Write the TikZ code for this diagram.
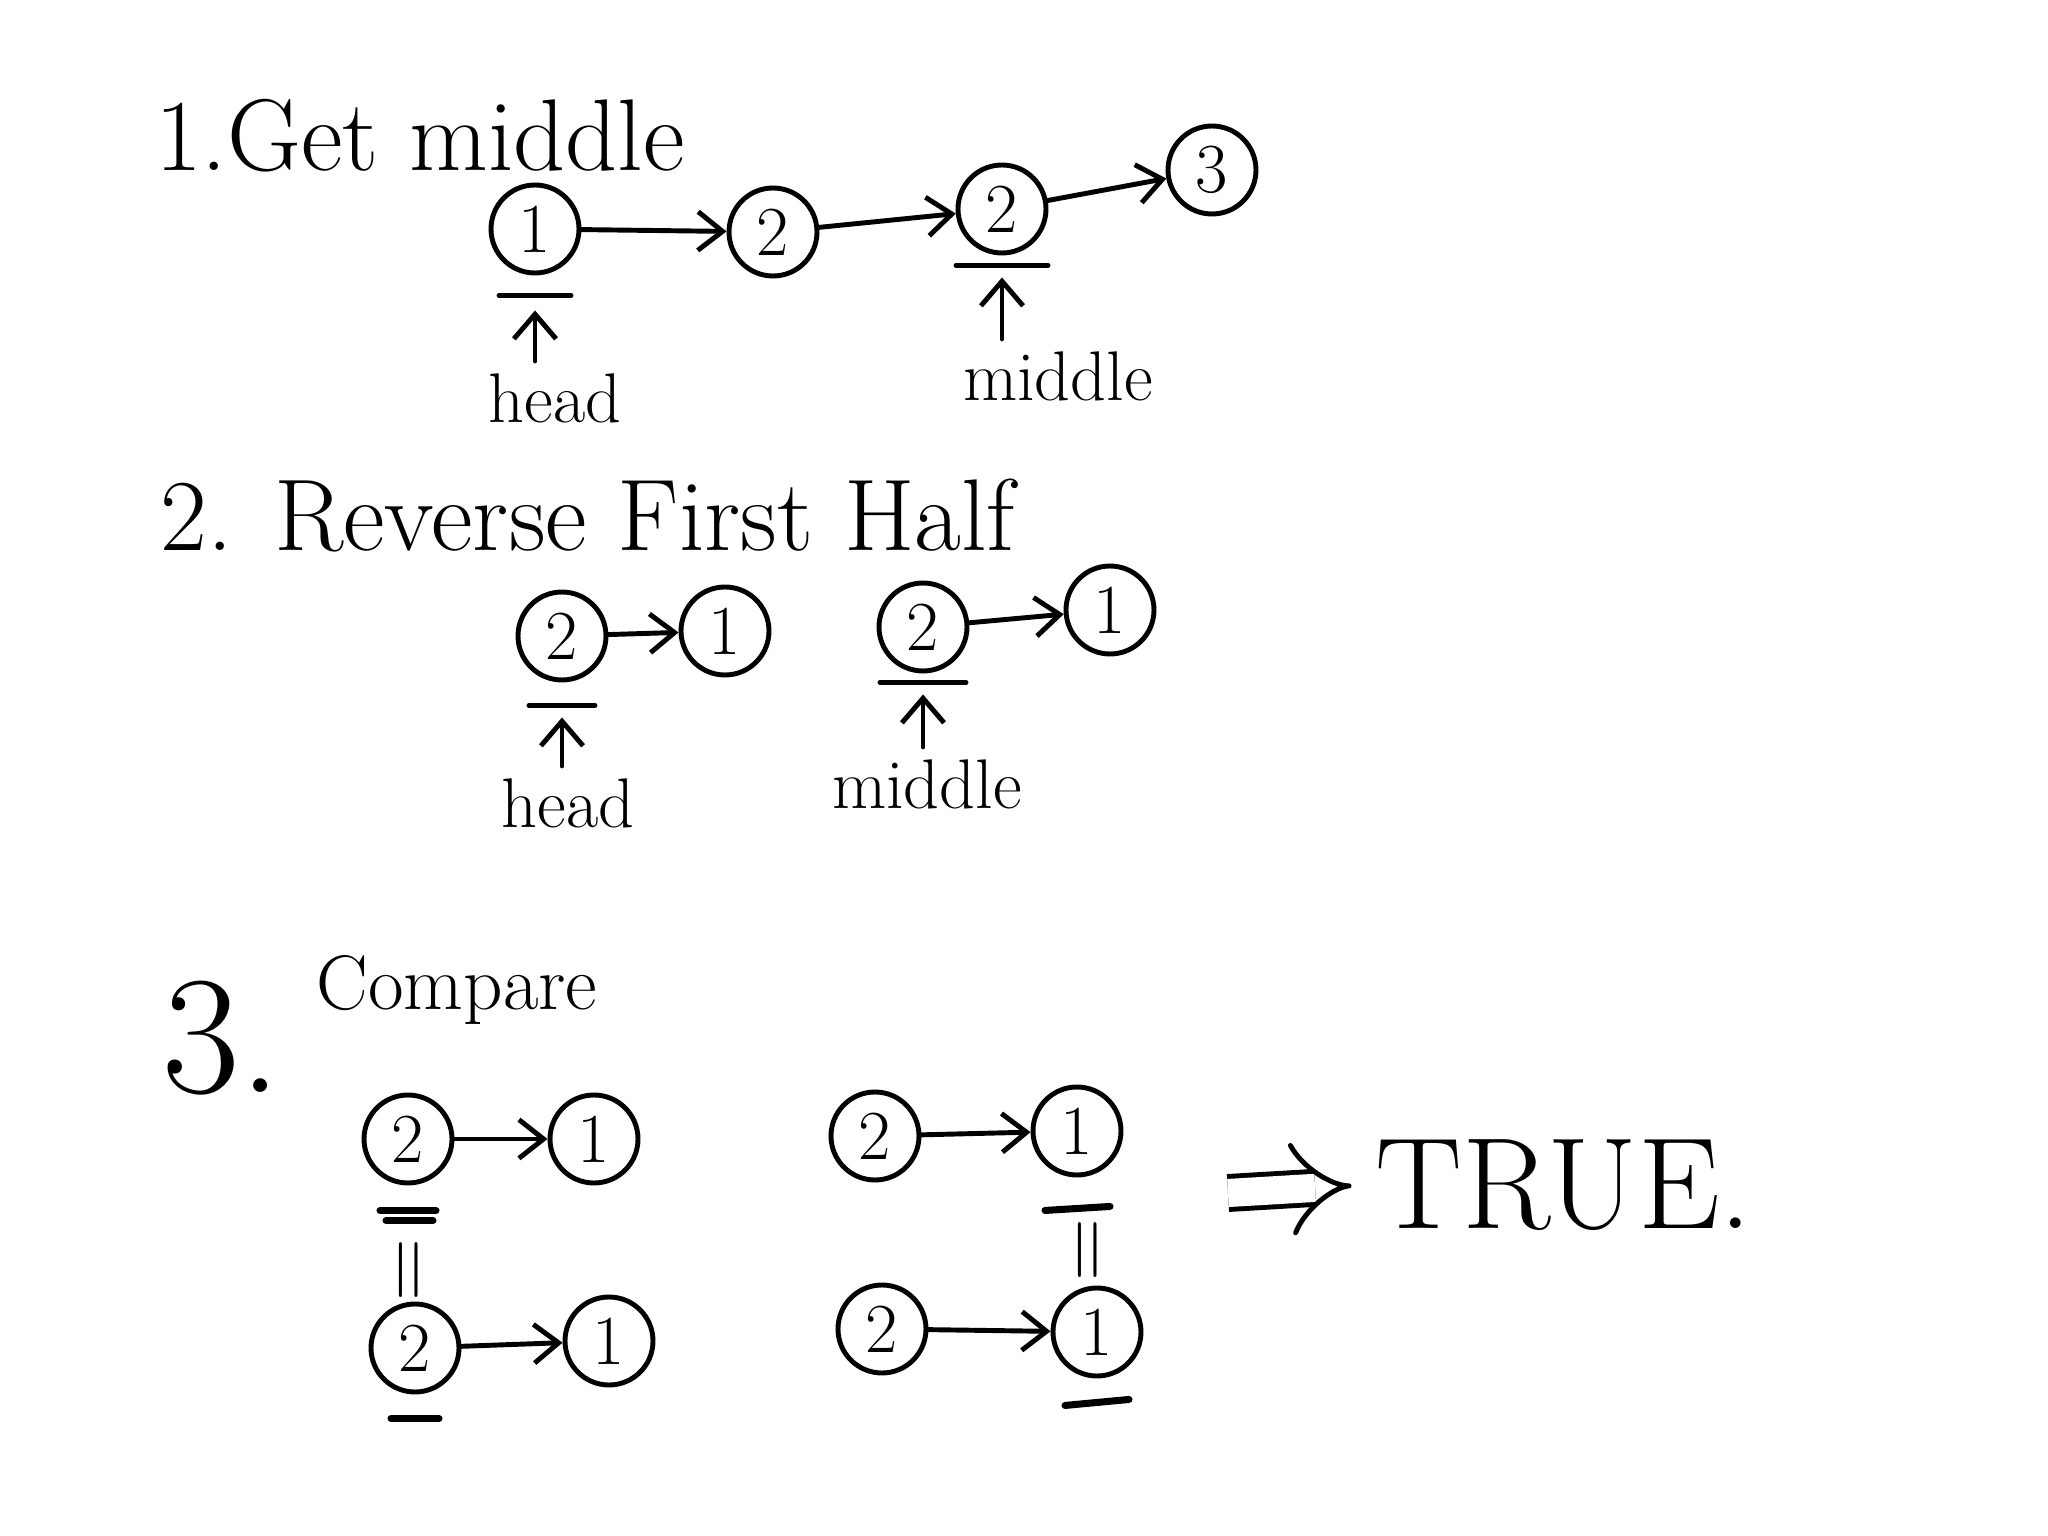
\documentclass[tikz,border=0pt]{standalone}
\usepackage{amsmath}
\usepackage{tikz}
\usetikzlibrary{arrows.meta,positioning,calc}

\tikzset{
  ink/.style = {line width=1.4pt, line cap=round},
  listnode/.style = {circle, draw, ink, minimum size=0.88cm, inner sep=0pt,
                     font=\fontsize{20}{24}\selectfont},
  nextptr/.style = {ink, -{Straight Barb[length=7pt,width=11pt,line width=1.4pt]}},
  upptr/.style = {ink, -{Straight Barb[length=7pt,width=12pt,line width=1.4pt]}},
  title/.style = {font=\fontsize{29}{33}\selectfont},
  ptrlabel/.style = {font=\fontsize{20}{24}\selectfont},
}

\begin{document}
\begin{tikzpicture}
\useasboundingbox[fill=white] (0,0) rectangle (20.48,-15.36);

% 1. get middle
\node[title] (step1) at (4.20,-1.36) {1.Get middle};
\node[listnode] (a1) at (5.35,-2.29) {1};
\node[listnode] (a2) at (7.73,-2.32) {2};
\node[listnode] (a3) at (10.02,-2.09) {2};
\node[listnode] (a4) at (12.12,-1.70) {3};
\draw[nextptr] (a1) -- (a2);
\draw[nextptr] (a2) -- (a3);
\draw[nextptr] (a3) -- (a4);
\coordinate[below=0.2cm of a1] (ua1);
\coordinate[below=0.1cm of a3] (ua3);
\draw[ink] ([xshift=-0.36cm]ua1) -- ([xshift=0.36cm]ua1);
\draw[ink] ([xshift=-0.46cm]ua3) -- ([xshift=0.46cm]ua3);
\node[ptrlabel] (head1) at (5.55,-3.98) {head};
\node[ptrlabel] (mid1) at (10.58,-3.76) {middle};
\draw[upptr] (head1.north -| ua1) -- ([yshift=-0.15cm]ua1);
\draw[upptr] (mid1.north -| ua3) -- ([yshift=-0.12cm]ua3);

% 2. reverse first half
\node[title] (step2) at (5.88,-5.16) {2. Reverse First Half};
\begin{scope}[every node/.append style={minimum size=0.92cm}]
\node[listnode] (b1) at (5.62,-6.36) {2};
\node[listnode] (b2) at (7.25,-6.31) {1};
\node[listnode] (b3) at (9.23,-6.27) {2};
\node[listnode] (b4) at (11.10,-6.10) {1};
\end{scope}
\draw[nextptr] (b1) -- (b2);
\draw[nextptr] (b3) -- (b4);
\coordinate[below=0.23cm of b1] (ub1);
\coordinate[below=0.09cm of b3] (ub3);
\draw[ink] ([xshift=-0.33cm]ub1) -- ([xshift=0.33cm]ub1);
\draw[ink] ([xshift=-0.43cm]ub3) -- ([xshift=0.43cm]ub3);
\node[ptrlabel] (head2) at (5.68,-8.03) {head};
\node[ptrlabel] (mid2) at (9.27,-7.84) {middle};
\draw[upptr] (head2.north -| ub1) -- ([yshift=-0.12cm]ub1);
\draw[upptr] (mid2.north -| ub3) -- ([yshift=-0.12cm]ub3);

% 3. compare
\node[font=\fontsize{48}{52}\selectfont] (step3) at (2.22,-10.38) {3.};
\node[font=\fontsize{22}{26}\selectfont] (cmp) at (4.57,-9.90) {Compare};
\begin{scope}[every node/.append style={minimum size=0.98cm}]
\node[listnode] (c1) at (4.08,-11.39) {2};
\node[listnode] (c2) at (5.94,-11.39) {1};
\node[listnode] (c3) at (8.75,-11.36) {2};
\node[listnode] (c4) at (10.77,-11.31) {1};
\node[listnode] (d1) at (4.15,-13.48) {2};
\node[listnode] (d2) at (6.09,-13.41) {1};
\node[listnode] (d3) at (8.82,-13.29) {2};
\node[listnode] (d4) at (10.97,-13.32) {1};
\end{scope}
\draw[nextptr] (c1) -- (c2);
\draw[nextptr] (c3) -- (c4);
\draw[nextptr] (d1) -- (d2);
\draw[nextptr] (d3) -- (d4);
% matching pairs
\coordinate[below=0.25cm of c1] (uc1);
\coordinate[below=0.29cm of c4] (uc4);
\coordinate[below=0.24cm of d1] (ud1);
\coordinate[below=0.27cm of d4] (ud4);
\draw[ink, line width=2pt] ([xshift=-0.28cm]uc1) -- ([xshift=0.28cm]uc1);
\draw[ink, line width=2pt] ([xshift=-0.22cm,yshift=-0.1cm]uc1) -- ([xshift=0.25cm,yshift=-0.1cm]uc1);
\draw[ink, line width=2pt] ([xshift=-0.32cm,yshift=-0.04cm]uc4) -- ([xshift=0.33cm]uc4);
\draw[ink, line width=2pt] ([xshift=-0.24cm]ud1) -- ([xshift=0.24cm]ud1);
\draw[ink, line width=2pt] ([xshift=-0.32cm]ud4) -- ([xshift=0.32cm,yshift=0.06cm]ud4);
\node[rotate=90, font=\fontsize{24}{28}\selectfont] (eq1) at (4.15,-12.70) {$=$};
\node[rotate=90, font=\fontsize{24}{28}\selectfont] (eq2) at (10.94,-12.50) {$=$};

% result
\node[font=\fontsize{37}{41}\selectfont] (true) at (15.64,-11.85) {TRUE.};
\coordinate (impl) at (12.28,-11.93);
\draw[line width=1.4pt, double distance=8pt, -{Implies[length=10pt]},
      shorten >=0.12cm] (impl) -- (true.west);
\end{tikzpicture}
\end{document}
